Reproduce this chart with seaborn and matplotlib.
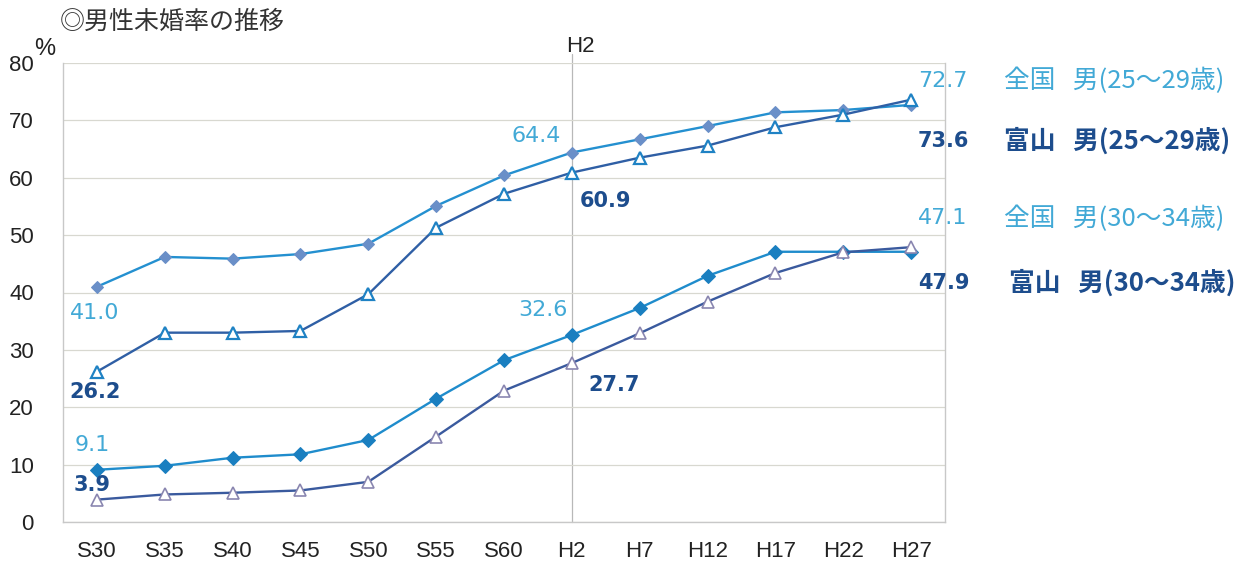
import matplotlib
matplotlib.use("Agg")
import matplotlib.pyplot as plt
import seaborn as sns
import pandas as pd

periods = ["S30", "S35", "S40", "S45", "S50", "S55", "S60", "H2", "H7", "H12", "H17", "H22", "H27"]
national_25_29 = [41.0, 46.2, 45.9, 46.7, 48.5, 55.1, 60.4, 64.4, 66.7, 69.0, 71.4, 71.8, 72.7]
toyama_25_29 = [26.2, 33.0, 33.0, 33.3, 39.7, 51.3, 57.2, 60.9, 63.5, 65.6, 68.8, 71.0, 73.6]
national_30_34 = [9.1, 9.8, 11.2, 11.8, 14.3, 21.5, 28.2, 32.6, 37.3, 42.9, 47.1, 47.1, 47.1]
toyama_30_34 = [3.9, 4.8, 5.1, 5.5, 7.0, 14.9, 22.9, 27.7, 32.9, 38.4, 43.4, 47.0, 47.9]

series_names = ["全国   男(25～29歳)", "富山   男(25～29歳)", "全国   男(30～34歳)", "富山   男(30～34歳)"]
title = "◎男性未婚率の推移"

sns.set_theme(style="white")
plt.rcParams['font.family'] = ['Noto Sans CJK JP', 'DejaVu Sans']

LIGHT = "#42a9d6"
NAVY = "#1d4d8d"

df = pd.DataFrame({
    "period": periods,
    "n2529": national_25_29,
    "t2529": toyama_25_29,
    "n3034": national_30_34,
    "t3034": toyama_30_34,
})

W, H = 1249, 567
fig = plt.figure(figsize=(W / 100, H / 100), dpi=100)
ax = fig.add_axes([63 / W, 45 / H, 882 / W, 459 / H])

sns.lineplot(data=df, x="period", y="n2529", ax=ax, sort=False, color="#2490d0", lw=1.7,
             marker="D", markersize=6, markerfacecolor="#6a8fc8", markeredgecolor="#6a8fc8")
sns.lineplot(data=df, x="period", y="t2529", ax=ax, sort=False, color="#2f5fa5", lw=1.7,
             marker="^", markersize=9, markerfacecolor="white", markeredgecolor="#1f82c4", markeredgewidth=1.6)
sns.lineplot(data=df, x="period", y="n3034", ax=ax, sort=False, color="#1f8ccc", lw=1.7,
             marker="D", markersize=7, markerfacecolor="#1a7fc0", markeredgecolor="#1a7fc0")
sns.lineplot(data=df, x="period", y="t3034", ax=ax, sort=False, color="#3a5a9e", lw=1.7,
             marker="^", markersize=9, markerfacecolor="white", markeredgecolor="#8a86b0", markeredgewidth=1.2)

ax.set_xlim(-0.5, len(periods) - 0.5)
ax.set_ylim(0, 80)
ax.set_yticks(range(0, 81, 10))
ax.set_yticklabels([str(v) for v in range(0, 81, 10)], fontsize=16,
                   family=['Liberation Sans', 'DejaVu Sans'], color="#222222")
ax.set_xticks(range(len(periods)))
ax.set_xticklabels(periods, fontsize=16, family=['Liberation Sans', 'DejaVu Sans'], color="#222222")
ax.set_xticks([i - 0.5 for i in range(len(periods) + 1)], minor=True)
ax.tick_params(axis='x', which='major', length=0, pad=14)
ax.tick_params(axis='x', which='minor', direction='in', length=5, color="#b0b0b0")
ax.tick_params(axis='y', length=0, pad=21)
ax.set_xlabel("")
ax.set_ylabel("")
ax.grid(axis='y', color="#d8d8d0", lw=0.9)
for s in ax.spines.values():
    s.set_color("#c8c8c8")
    s.set_linewidth(1.0)
ax.spines['top'].set_visible(False)

# vertical H2 line
h2 = periods.index("H2")
ax.plot([h2, h2], [0, 81.5], color="#b8b8b8", lw=0.9, clip_on=False, zorder=0)
ax.text(h2 + 0.12, 82.8, "H2", ha="center", va="center", fontsize=16, color="#222222",
        family=['Liberation Sans', 'DejaVu Sans'], clip_on=False)

ax.text(-0.77, 82.4, "%", ha="center", va="center", fontsize=17, color="#222222",
        family=['Liberation Sans', 'DejaVu Sans'], clip_on=False)
fig.text(60 / W, 1 - 22 / H, title, ha="left", va="center", fontsize=18, color="#333333")


def lab(x, y, s, color, bold, ha="center"):
    ax.text(x, y, s, ha=ha, va="center", fontsize=15 if bold else 16, color=color,
            fontweight="bold" if bold else "normal", clip_on=False,
            family=['DejaVu Sans'])


lab(-0.03, 36.5, f"{national_25_29[0]:.1f}", LIGHT, False)
lab(-0.03, 22.6, f"{toyama_25_29[0]:.1f}", NAVY, True)
lab(-0.07, 13.4, f"{national_30_34[0]:.1f}", LIGHT, False)
lab(-0.07, 6.4, f"{toyama_30_34[0]:.1f}", NAVY, True)
lab(6.48, 67.3, f"{national_25_29[h2]:.1f}", LIGHT, False)
lab(7.50, 56.0, f"{toyama_25_29[h2]:.1f}", NAVY, True)
lab(6.57, 36.9, f"{national_30_34[h2]:.1f}", LIGHT, False)
lab(7.62, 23.8, f"{toyama_30_34[h2]:.1f}", NAVY, True)

right_vals = [national_25_29[-1], toyama_25_29[-1], national_30_34[-1], toyama_30_34[-1]]
right_y = [76.9, 66.4, 52.9, 41.6]
colors = [LIGHT, NAVY, LIGHT, NAVY]
bolds = [False, True, False, True]
name_x = [13.37, 13.37, 13.37, 13.44]
for v, y, c, b, nm, nx in zip(right_vals, right_y, colors, bolds, series_names, name_x):
    lab(12.10, y, f"{v:.1f}", c, b, ha="left")
    ax.text(nx, y, nm, ha="left", va="center", fontsize=18.5, color=c,
            fontweight="bold" if b else "normal", clip_on=False,
            family=['Noto Sans CJK JP', 'DejaVu Sans'])

fig.savefig("out.png", dpi=100, facecolor="white")
